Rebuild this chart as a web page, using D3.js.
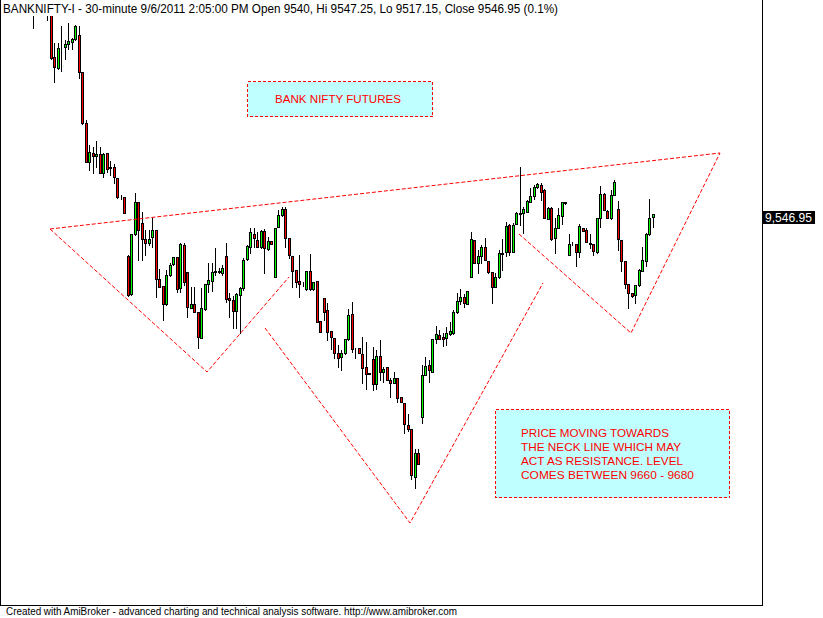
<!DOCTYPE html>
<html><head><meta charset="utf-8">
<script src="https://cdn.jsdelivr.net/npm/d3@7"></script>
<style>html,body{margin:0;padding:0;background:#fff;overflow:hidden}</style>
</head><body><div id="chart"></div>
<script>
// 30-minute bars, BANKNIFTY-I (index 0 = first partly visible bar, nulls = bars above the visible range)
const openP = [10025,null,null,null,10030,10028,
9916.8,9890.8,9940.0,9941.1,9947.5,9952.2,9959.3,9968.7,9881.4,9761.0,
9670.4,9690.2,9684.5,9687.9,9643.0,9690.2,9657.9,9657.9,9632.6,9585.4,
9587.8,9447.8,9357.5,9499.1,9574.6,9525.0,9487.3,9477.8,9492.0,9509.2,
9393.6,9377.0,9334.6,9403.0,9429.0,9446.2,9371.6,9473.8,9409.4,9325.8,
9334.6,9316.4,9255.0,9322.8,9381.0,9388.8,9410.1,9412.4,9407.0,9447.8,
9348.0,9344.0,9318.7,9355.8,9371.6,9440.8,9469.8,9499.8,9485.6,9468.4,
9507.5,9463.7,9483.2,9397.6,9515.6,9543.9,9558.8,9489.6,9447.8,9414.8,
9388.8,9379.4,9370.0,9412.4,9370.0,9388.8,9294.4,9349.4,9320.4,9270.8,
9253.6,9219.6,9210.2,9218.2,9251.3,9310.3,9230.1,9230.1,9216.6,9185.2,
9171.0,9204.0,9145.0,9211.8,9173.4,9185.2,9155.2,9147.4,9159.2,9114.4,
9100.2,9049.0,9038.9,8927.0,8982.2,9068.6,9166.3,9189.9,9174.8,9251.3,
9260.7,9256.7,9253.6,9263.1,9265.4,9316.4,9340.9,9350.4,9333.9,9397.6,
9485.6,9432.1,9447.8,9468.4,9436.0,9409.4,9374.0,9397.6,9452.6,9458.0,
9521.0,9458.0,9522.7,9547.0,9548.6,9552.4,9576.0,9589.4,9610.0,9615.4,
9603.6,9534.5,9561.8,9489.6,9513.2,9543.0,9572.2,9450.2,9477.8,9476.2,
9458.0,9513.2,9509.2,9477.8,9476.2,9458.0,9536.8,9594.2,9554.0,9536.8,
9591.8,9558.0,9485.6,9436.0,9381.0,9359.8,9355.8,9379.4,9412.4,9436.8,
9499.8,9540];
const highP = [10035,null,null,null,10045,10040,
9949.8,9949.8,9990.6,9957.6,9997.0,9961.6,9993.7,9990.6,9882.8,9768.8,
9709.8,9705.8,9719.2,9705.8,9690.2,9690.2,9672.0,9664.3,9632.6,9591.8,
9587.8,9450.2,9499.8,9595.8,9574.6,9551.0,9509.2,9509.2,9536.8,9509.2,
9416.5,9377.0,9414.8,9430.6,9446.2,9446.2,9477.8,9477.8,9409.4,9375.4,
9375.4,9316.4,9371.6,9381.0,9430.6,9430.6,9466.0,9418.8,9426.6,9477.8,
9359.8,9353.4,9359.8,9374.0,9442.4,9473.8,9513.2,9513.2,9505.2,9509.2,
9510.9,9493.4,9483.2,9513.2,9556.4,9562.8,9562.8,9489.6,9447.8,9414.8,
9450.2,9387.2,9412.4,9452.6,9387.2,9388.8,9294.4,9349.4,9336.2,9270.8,
9253.6,9237.8,9226.0,9251.3,9322.0,9338.6,9230.1,9230.1,9257.4,9245.6,
9171.0,9232.4,9226.0,9249.6,9186.6,9185.2,9159.2,9174.8,9159.2,9114.4,
9100.2,9075.0,9038.9,8992.4,8992.4,9190.6,9208.8,9202.4,9251.3,9282.6,
9273.2,9265.4,9281.0,9292.8,9320.4,9359.8,9370.0,9358.2,9364.5,9505.2,
9485.6,9462.0,9473.8,9489.6,9436.0,9409.4,9407.0,9462.0,9487.3,9528.8,
9523.4,9525.0,9552.4,9657.2,9564.2,9580.0,9607.6,9615.4,9619.4,9619.4,
9605.3,9564.2,9564.2,9536.8,9560.4,9574.6,9575.3,9499.8,9481.6,9476.2,
9523.4,9514.6,9513.2,9499.8,9476.2,9536.8,9613.0,9595.8,9556.4,9603.6,
9627.2,9578.3,9485.6,9436.0,9381.0,9359.8,9379.4,9416.5,9469.8,9501.4,
9581.7,9547.25];
const lowP = [9986,null,null,null,10005,9912.8,
9859.2,9888.5,9884.4,9912.1,9935.7,9935.7,9957.6,9867.2,9758.7,9670.4,
9650.8,9643.0,9658.6,9644.4,9635.0,9646.8,9639.0,9620.8,9584.0,9583.5,
9549.3,9353.4,9355.8,9497.4,9438.4,9438.4,9450.2,9473.8,9469.8,9350.4,
9375.4,9296.8,9332.2,9400.6,9426.6,9363.6,9363.6,9379.4,9303.2,9324.4,
9316.4,9231.4,9253.6,9320.4,9363.6,9365.2,9403.0,9408.9,9403.0,9340.0,
9304.6,9278.0,9277.2,9266.1,9367.6,9438.4,9454.2,9468.4,9468.4,9466.7,
9407.0,9462.0,9475.5,9397.6,9515.6,9542.2,9469.8,9442.4,9374.0,9374.0,
9351.8,9377.0,9367.6,9367.6,9367.6,9292.8,9269.2,9296.8,9249.6,9227.7,
9206.4,9185.2,9178.8,9215.9,9249.6,9220.6,9206.4,9218.2,9147.4,9134.0,
9168.7,9131.6,9134.0,9155.2,9151.2,9155.2,9115.8,9147.4,9104.0,9102.6,
9030.8,9035.6,8922.3,8899.6,8956.2,9054.4,9166.3,9151.2,9174.8,9243.2,
9252.7,9235.4,9237.8,9261.4,9263.8,9314.0,9333.9,9326.8,9333.9,9397.6,
9430.6,9408.4,9430.6,9438.4,9407.0,9337.6,9374.0,9395.2,9414.8,9447.8,
9450.2,9458.0,9522.7,9521.0,9501.4,9552.4,9576.0,9581.7,9607.6,9580.0,
9536.8,9534.5,9485.6,9455.6,9513.2,9523.4,9571.7,9450.2,9473.8,9424.2,
9446.2,9507.5,9481.6,9466.0,9450.2,9454.2,9517.0,9556.4,9536.8,9534.5,
9591.8,9462.0,9413.1,9371.6,9324.4,9351.8,9336.2,9377.0,9412.4,9424.2,
9497.4,9517.15];
const closeP = [10018,null,null,null,10022,9916.3,
9893.2,9938.0,9940.0,9948.2,9954.5,9959.3,9990.6,9881.4,9761.0,9670.4,
9694.0,9684.5,9687.9,9644.4,9687.9,9653.9,9656.2,9635.0,9587.8,9585.4,
9550.0,9355.8,9499.1,9574.6,9509.2,9487.3,9479.2,9488.0,9509.2,9392.8,
9375.4,9333.9,9403.0,9426.6,9444.8,9370.0,9475.5,9387.2,9328.2,9334.6,
9316.4,9257.4,9324.4,9381.0,9391.2,9410.8,9412.4,9410.1,9418.8,9345.7,
9344.0,9318.7,9357.5,9371.6,9438.4,9471.4,9503.8,9489.6,9468.4,9506.8,
9466.0,9484.0,9475.5,9513.2,9543.9,9558.8,9489.6,9449.5,9413.1,9387.2,
9381.8,9379.4,9412.4,9370.0,9385.8,9292.8,9269.2,9316.4,9269.2,9256.0,
9218.2,9206.4,9219.6,9251.3,9308.6,9228.4,9230.1,9219.6,9182.8,9168.7,
9168.7,9145.0,9211.8,9174.8,9181.2,9155.2,9147.4,9159.2,9112.0,9102.6,
9050.7,9038.9,8930.3,8982.2,8956.2,9166.3,9189.0,9178.8,9251.3,9263.1,
9252.7,9251.3,9265.4,9270.8,9316.4,9342.3,9350.4,9336.2,9364.5,9487.3,
9430.6,9447.8,9468.4,9438.4,9409.4,9374.0,9399.0,9454.2,9455.6,9518.6,
9458.0,9521.0,9550.0,9550.0,9558.0,9577.6,9589.4,9611.4,9617.8,9599.6,
9536.8,9561.8,9488.0,9513.2,9544.6,9574.6,9574.6,9476.2,9477.8,9458.0,
9518.6,9507.5,9481.6,9476.2,9460.3,9536.8,9594.2,9556.4,9536.8,9591.8,
9621.8,9487.3,9436.8,9381.0,9359.8,9353.4,9379.4,9414.8,9438.4,9499.8,
9536.8,9546.95];

// Hand-drawn pattern lines, in (bar index, price)
const necklinePts = [[4.77, 9511.6], [196.2, 9690.9]];
const leftShoulderPts = [[4.77, 9511.6], [49.63, 9174.1], [73.06, 9398.3]];
const headPts = [[66.2, 9277.9], [107.63, 8817.7], [145.63, 9384.1]];
const rightShoulderPts = [[138.77, 9499.8], [170.77, 9266.1], [196.2, 9690.9]];

const titleText = "BANKNIFTY-I - 30-minute 9/6/2011 2:05:00 PM Open 9540, Hi 9547.25, Lo 9517.15, Close 9546.95 (0.1%)";
const box1Text = ["BANK NIFTY FUTURES"];
const box2Text = ["PRICE MOVING TOWARDS", "THE NECK LINE WHICH MAY", "ACT AS RESISTANCE. LEVEL", "COMES BETWEEN 9660 - 9680"];
const lastLabel = "9,546.95";
const footerText = "Created with AmiBroker - advanced charting and technical analysis software. http://www.amibroker.com";

const W = 823, H = 618;
const FONT = "'Liberation Sans', Arial, sans-serif";
const svg = d3.select('#chart').append('svg')
  .attr('width', W).attr('height', H).style('display', 'block')
  .style('background', '#fff');

const plotRight = 762, plotBottom = 605, plotTop = 16;
const x = d3.scaleLinear().domain([0, 177]).range([33.3, 652.8]);
const y = d3.scaleLinear().domain([8624.2, 10052]).range([plotBottom, 0]);

svg.append('defs').append('clipPath').attr('id', 'clip')
  .append('rect').attr('x', 1).attr('y', plotTop).attr('width', plotRight - 1).attr('height', plotBottom - plotTop);

const bars = openP.map((o, i) => ({i, o, h: highP[i], l: lowP[i], c: closeP[i]})).filter(d => d.o != null);

const g = svg.append('g').attr('clip-path', 'url(#clip)').attr('shape-rendering', 'crispEdges');

// wicks
g.selectAll('line.wick').data(bars).join('line').attr('class', 'wick')
  .attr('x1', d => Math.round(x(d.i)) + 0.5).attr('x2', d => Math.round(x(d.i)) + 0.5)
  .attr('y1', d => Math.round(y(d.h))).attr('y2', d => Math.round(y(d.l)) + 1)
  .attr('stroke', '#000').attr('stroke-width', 1);

// bodies
g.selectAll('rect.body').data(bars).join('rect').attr('class', 'body')
  .attr('x', d => Math.round(x(d.i)) - 1 + 0.5)
  .attr('y', d => Math.round(y(Math.max(d.o, d.c))) + 0.5)
  .attr('width', 2)
  .attr('height', d => Math.max(0, Math.round(y(Math.min(d.o, d.c))) - Math.round(y(Math.max(d.o, d.c)))))
  .attr('fill', d => d.c >= d.o ? '#00ff00' : '#ff0000')
  .attr('stroke', '#000').attr('stroke-width', 1);

// pattern lines
const line = d3.line().x(p => x(p[0])).y(p => y(p[1]));
const lg = svg.append('g').attr('clip-path', 'url(#clip)');
[necklinePts, leftShoulderPts, headPts, rightShoulderPts].forEach(pts => {
  lg.append('path').attr('d', line(pts)).attr('fill', 'none')
    .attr('stroke', '#ff0000').attr('stroke-width', 1).attr('stroke-dasharray', '4,2');
});

// annotation boxes
function box(bx, by, bw, bh) {
  svg.append('rect').attr('x', bx + 0.5).attr('y', by + 0.5).attr('width', bw).attr('height', bh)
    .attr('fill', '#c0ffff').attr('stroke', '#ff0000').attr('stroke-width', 1)
    .attr('stroke-dasharray', '3,2').attr('shape-rendering', 'crispEdges');
}
box(247, 81, 185, 35);
svg.append('text').attr('x', 275).attr('y', 103).attr('fill', '#ff0000')
  .style('font-family', FONT).style('font-size', '11px')
  .attr('textLength', 126).attr('lengthAdjust', 'spacingAndGlyphs').text(box1Text[0]);

box(495, 409, 234, 88);
const widths2 = [148, 160, 162, 173];
box2Text.forEach((t, k) => {
  svg.append('text').attr('x', 521).attr('y', 437 + k * 14.1).attr('fill', '#ff0000')
    .style('font-family', FONT).style('font-size', '11px')
    .attr('textLength', widths2[k]).attr('lengthAdjust', 'spacingAndGlyphs').text(t);
});

// frame / axis
const yAxis = d3.axisRight(y).tickValues([]).tickSizeOuter(0);
svg.append('g').attr('transform', `translate(${plotRight + 0.5},0)`).call(yAxis)
  .call(a => a.select('.domain').attr('stroke', '#000').attr('d', `M0,0V${plotBottom + 1}`))
  .attr('shape-rendering', 'crispEdges');
svg.append('line').attr('x1', 0).attr('x2', plotRight + 1).attr('y1', plotBottom + 0.5).attr('y2', plotBottom + 0.5)
  .attr('stroke', '#000').attr('shape-rendering', 'crispEdges');
svg.append('line').attr('x1', 0.5).attr('x2', 0.5).attr('y1', 0).attr('y2', plotBottom + 1)
  .attr('stroke', '#000').attr('shape-rendering', 'crispEdges');

// last price label
const lastY = y(closeP[closeP.length - 1]);
svg.append('rect').attr('x', plotRight + 1).attr('y', Math.round(lastY) - 3).attr('width', 52).attr('height', 13)
  .attr('fill', '#000');
svg.append('text').attr('x', plotRight + 3).attr('y', Math.round(lastY) + 7.5).attr('fill', '#fff')
  .style('font-family', FONT).style('font-size', '12px')
  .attr('textLength', 47).attr('lengthAdjust', 'spacingAndGlyphs').text(lastLabel);

// title
svg.append('text').attr('x', 3).attr('y', 13).attr('fill', '#000')
  .style('font-family', FONT).style('font-size', '12px')
  .attr('textLength', 555).attr('lengthAdjust', 'spacingAndGlyphs').text(titleText);

// footer
svg.append('text').attr('x', 6).attr('y', 615).attr('fill', '#000')
  .style('font-family', FONT).style('font-size', '10px')
  .attr('textLength', 451).attr('lengthAdjust', 'spacingAndGlyphs').text(footerText);
</script>
</body></html>
